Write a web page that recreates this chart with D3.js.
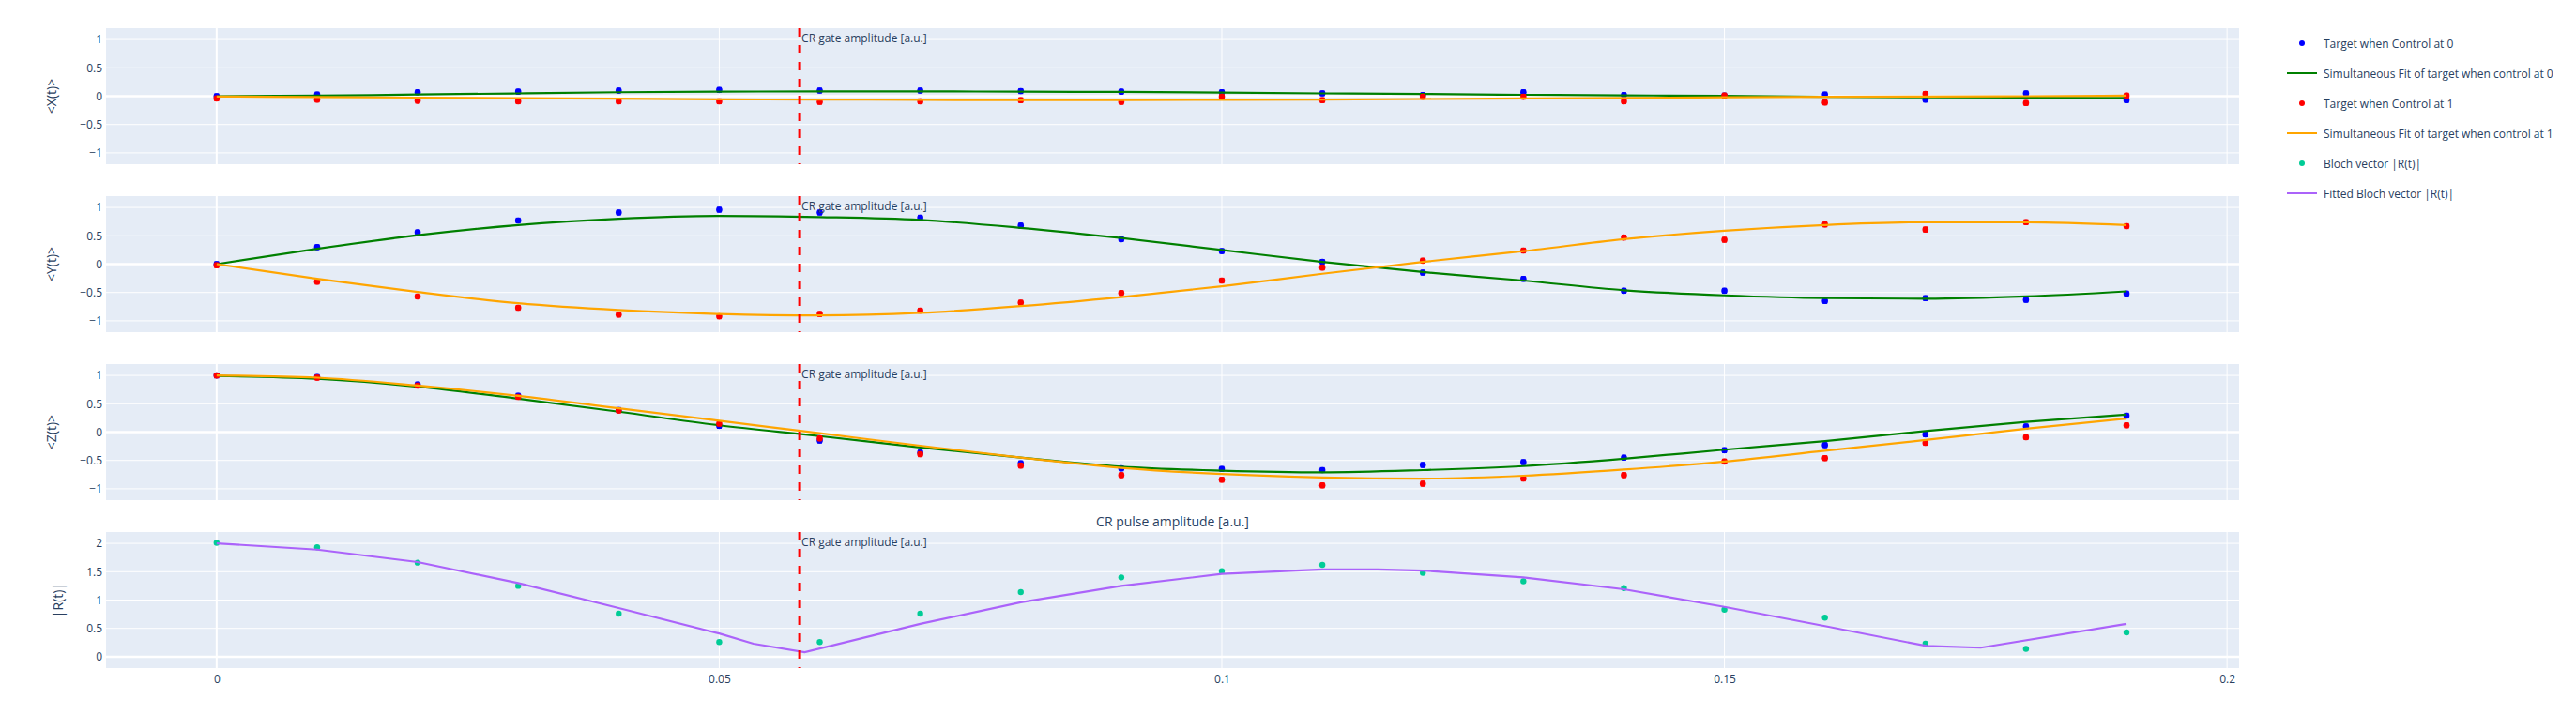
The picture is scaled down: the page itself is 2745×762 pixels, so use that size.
<!doctype html>
<html>
<head>
<meta charset="utf-8">
<title>CR pulse amplitude fit</title>
<style>
  body { margin: 0; background: #fff; }
  svg text { font-family: "Open Sans", "Liberation Sans", sans-serif; fill: #2a3f5f; }
</style>
</head>
<body>
<svg id="chart" width="2745" height="762"></svg>
<script src="https://cdn.jsdelivr.net/npm/d3@7"></script>
<script>

// ---- data ----
const amp = [0, 0.01, 0.02, 0.03, 0.04, 0.05, 0.06, 0.07, 0.08, 0.09,
             0.10, 0.11, 0.12, 0.13, 0.14, 0.15, 0.16, 0.17, 0.18, 0.19];

const x0 = [0.0, 0.03, 0.07, 0.08, 0.10, 0.11, 0.10, 0.10, 0.09, 0.08,
            0.07, 0.05, 0.02, 0.07, 0.02, 0.01, 0.03, -0.06, 0.05, -0.07];
const x1 = [-0.04, -0.06, -0.08, -0.09, -0.09, -0.09, -0.10, -0.09, -0.07, -0.10,
            -0.01, -0.07, -0.01, -0.01, -0.09, 0.01, -0.11, 0.04, -0.12, 0.01];
const fitX0 = [0, 0.01, 0.03, 0.05, 0.07, 0.08, 0.085, 0.085, 0.08, 0.075,
               0.065, 0.05, 0.04, 0.025, 0.015, 0.005, -0.01, -0.02, -0.025, -0.03];
const fitX1 = [-0.005, -0.015, -0.025, -0.035, -0.045, -0.055, -0.06, -0.065, -0.07, -0.07,
               -0.065, -0.06, -0.05, -0.04, -0.03, -0.02, -0.01, -0.005, 0.0, 0.01];

const y0 = [0.0, 0.30, 0.56, 0.77, 0.91, 0.96, 0.91, 0.82, 0.68, 0.44,
            0.23, 0.04, -0.15, -0.26, -0.47, -0.47, -0.65, -0.60, -0.63, -0.52];
const y1 = [-0.02, -0.31, -0.57, -0.77, -0.89, -0.92, -0.88, -0.82, -0.68, -0.51,
            -0.29, -0.06, 0.06, 0.24, 0.47, 0.43, 0.70, 0.61, 0.74, 0.67];
const fitY0 = [0, 0.27, 0.51, 0.69, 0.80, 0.85, 0.83, 0.78, 0.64, 0.46,
               0.25, 0.04, -0.14, -0.29, -0.46, -0.55, -0.60, -0.61, -0.57, -0.48];
const fitY1 = [0, -0.26, -0.49, -0.69, -0.81, -0.88, -0.905, -0.86, -0.74, -0.58,
               -0.39, -0.17, 0.04, 0.23, 0.44, 0.59, 0.69, 0.74, 0.74, 0.69];

const z0 = [1.0, 0.97, 0.84, 0.64, 0.39, 0.11, -0.15, -0.36, -0.55, -0.64,
            -0.65, -0.67, -0.58, -0.53, -0.45, -0.32, -0.23, -0.04, 0.10, 0.29];
const z1 = [1.0, 0.96, 0.82, 0.62, 0.38, 0.15, -0.11, -0.39, -0.59, -0.76,
            -0.84, -0.94, -0.91, -0.82, -0.76, -0.52, -0.46, -0.19, -0.09, 0.12];
const fitZ0 = [0.99, 0.94, 0.80, 0.59, 0.36, 0.12, -0.07, -0.27, -0.45, -0.61,
               -0.68, -0.71, -0.67, -0.60, -0.47, -0.31, -0.16, 0.02, 0.18, 0.31];
const fitZ1 = [1.0, 0.96, 0.82, 0.64, 0.42, 0.20, -0.02, -0.24, -0.45, -0.63,
               -0.74, -0.80, -0.82, -0.77, -0.66, -0.52, -0.33, -0.14, 0.06, 0.24];

const blochR = [2.01, 1.93, 1.66, 1.25, 0.76, 0.26, 0.26, 0.76, 1.14, 1.40,
                1.51, 1.62, 1.48, 1.33, 1.21, 0.83, 0.69, 0.23, 0.14, 0.43];
const fitRAmp = [0, 0.01, 0.02, 0.03, 0.04, 0.05, 0.0534, 0.0585, 0.07, 0.08, 0.09,
                 0.10, 0.11, 0.1155, 0.12, 0.13, 0.14, 0.15, 0.16, 0.1701, 0.1755, 0.19];
const fitR = [2.0, 1.89, 1.67, 1.30, 0.86, 0.41, 0.23, 0.08, 0.58, 0.96, 1.25,
              1.46, 1.54, 1.54, 1.52, 1.40, 1.19, 0.88, 0.54, 0.19, 0.16, 0.58];

const yErr = 0.035;         // size of the error bars on the expectation values
const gateAmp = 0.058;      // CR gate amplitude marker

const xTicks = [0, 0.05, 0.1, 0.15, 0.2];
const expTicks = [-1, -0.5, 0, 0.5, 1];
const rTicks = [0, 0.5, 1, 1.5, 2];

const legendNames = ["Target when Control at 0", "Simultaneous Fit of target when control at 0",
                     "Target when Control at 1", "Simultaneous Fit of target when control at 1",
                     "Bloch vector |R(t)|", "Fitted Bloch vector |R(t)|"];

// ---- layout ----
const svg = d3.select("#chart");
const left = 113, right = 2386;
const rowTop = [30, 209, 388, 567], rowH = 145;
const bg = "#E5ECF6";

const x = d3.scaleLinear().domain([-0.011, 0.2012]).range([left, right]);
const fmt = d3.format("~g");

const panels = [
  {title: "<X(t)>", tx: 54, dom: [-1.2, 1.2], ticks: expTicks,
   pts: [[x0, "blue"], [x1, "red"]], fits: [[fitX0, "green"], [fitX1, "orange"]]},
  {title: "<Y(t)>", tx: 54, dom: [-1.2, 1.2], ticks: expTicks,
   pts: [[y0, "blue"], [y1, "red"]], fits: [[fitY0, "green"], [fitY1, "orange"]]},
  {title: "<Z(t)>", tx: 54, dom: [-1.2, 1.2], ticks: expTicks,
   pts: [[z0, "blue"], [z1, "red"]], fits: [[fitZ0, "green"], [fitZ1, "orange"]]},
  {title: "|R(t)|", tx: 61, dom: [-0.2, 2.2], ticks: rTicks, bloch: true}
];

panels.forEach((p, i) => {
  const top = rowTop[i], bottom = top + rowH;
  const y = d3.scaleLinear().domain(p.dom).range([bottom, top]);
  const g = svg.append("g");

  g.append("rect").attr("x", left).attr("y", top)
    .attr("width", right - left).attr("height", rowH).attr("fill", bg);

  // grid
  g.selectAll(".gx").data(xTicks).enter().append("line")
    .attr("x1", d => x(d)).attr("x2", d => x(d)).attr("y1", top).attr("y2", bottom)
    .attr("stroke", "white").attr("stroke-width", d => d === 0 ? 2 : 1);
  g.selectAll(".gy").data(p.ticks).enter().append("line")
    .attr("x1", left).attr("x2", right).attr("y1", d => y(d)).attr("y2", d => y(d))
    .attr("stroke", "white").attr("stroke-width", d => d === 0 ? 2.5 : 1);

  // y axis labels
  const ax = g.append("g").attr("transform", `translate(${left},0)`)
    .call(d3.axisLeft(y).tickValues(p.ticks).tickSize(0).tickPadding(4).tickFormat(fmt));
  ax.select(".domain").remove();
  ax.selectAll("text").style("font-size", "12px").attr("fill", "#2a3f5f");

  g.append("text")
    .attr("transform", `translate(${p.tx},${top + rowH / 2}) rotate(-90)`)
    .attr("text-anchor", "middle").attr("dominant-baseline", "central")
    .style("font-size", "14px").text(p.title);

  const clipId = "clip" + i;
  svg.append("clipPath").attr("id", clipId).append("rect")
    .attr("x", left).attr("y", top).attr("width", right - left).attr("height", rowH);
  const plot = g.append("g").attr("clip-path", `url(#${clipId})`);

  if (!p.bloch) {
    const line = d3.line().x((d, k) => x(amp[k])).y(d => y(d)).curve(d3.curveMonotoneX);
    for (let s = 0; s < 2; s++) {
      const [vals, col] = p.pts[s];
      const eb = plot.append("g").attr("stroke", col).attr("stroke-width", 2);
      vals.forEach((v, k) => {
        const cx = x(amp[k]);
        eb.append("line").attr("x1", cx).attr("x2", cx)
          .attr("y1", y(v - yErr)).attr("y2", y(v + yErr));
        eb.append("line").attr("x1", cx - 2.5).attr("x2", cx + 2.5)
          .attr("y1", y(v - yErr)).attr("y2", y(v - yErr));
        eb.append("line").attr("x1", cx - 2.5).attr("x2", cx + 2.5)
          .attr("y1", y(v + yErr)).attr("y2", y(v + yErr));
      });
      plot.append("g").selectAll("circle").data(vals).enter().append("circle")
        .attr("cx", (d, k) => x(amp[k])).attr("cy", d => y(d)).attr("r", 3.3)
        .attr("fill", col);
      const [fv, fcol] = p.fits[s];
      plot.append("path").datum(fv).attr("d", line)
        .attr("fill", "none").attr("stroke", fcol).attr("stroke-width", 2.2);
    }
  } else {
    plot.append("g").selectAll("circle").data(blochR).enter().append("circle")
      .attr("cx", (d, k) => x(amp[k])).attr("cy", d => y(d)).attr("r", 3.2)
      .attr("fill", "#00cc96");
    const rline = d3.line().x((d, k) => x(fitRAmp[k])).y(d => y(d));
    plot.append("path").datum(fitR).attr("d", rline)
      .attr("fill", "none").attr("stroke", "#ab63fa").attr("stroke-width", 2.2);

    const xa = g.append("g").attr("transform", `translate(0,${bottom})`)
      .call(d3.axisBottom(x).tickValues(xTicks).tickSize(0).tickPadding(7).tickFormat(fmt));
    xa.select(".domain").remove();
    xa.selectAll("text").style("font-size", "12px").attr("fill", "#2a3f5f");
  }

  // CR gate marker
  g.append("line").attr("x1", x(gateAmp)).attr("x2", x(gateAmp))
    .attr("y1", top).attr("y2", bottom)
    .attr("stroke", "red").attr("stroke-width", 3).attr("stroke-dasharray", "9,9");
  g.append("text").attr("x", x(gateAmp) + 2).attr("y", top + 10)
    .attr("dominant-baseline", "central").style("font-size", "12px")
    .text("CR gate amplitude [a.u.]");
});

svg.append("text").attr("x", (left + right) / 2).attr("y", 555)
  .attr("text-anchor", "middle").attr("dominant-baseline", "central")
  .style("font-size", "14px").text("CR pulse amplitude [a.u.]");

// legend
const legendKinds = [["dot", "blue"], ["line", "green"], ["dot", "red"],
                     ["line", "orange"], ["dot", "#00cc96"], ["line", "#ab63fa"]];
const leg = svg.append("g");
legendNames.forEach((name, i) => {
  const ly = 46 + i * 32;
  const [kind, col] = legendKinds[i];
  if (kind === "dot") {
    leg.append("circle").attr("cx", 2453).attr("cy", ly).attr("r", 3).attr("fill", col);
  } else {
    leg.append("line").attr("x1", 2437).attr("x2", 2469).attr("y1", ly).attr("y2", ly)
      .attr("stroke", col).attr("stroke-width", 2);
  }
  leg.append("text").attr("x", 2476).attr("y", ly).attr("dominant-baseline", "central")
    .style("font-size", "12px").text(name);
});

</script>
</body>
</html>
